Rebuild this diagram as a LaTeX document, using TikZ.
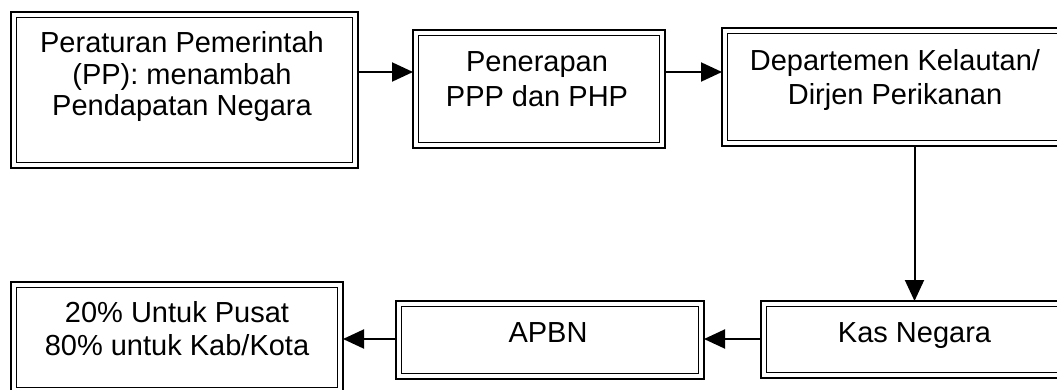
\documentclass[tikz,border=0pt]{standalone}
\usepackage{fontspec}
\setmainfont{Liberation Sans}
\usetikzlibrary{arrows.meta}
\tikzset{
  dbox/.style={draw, line width=2.6pt, rectangle, inner sep=0pt, outer sep=0pt,
    minimum width=#1,
    path picture={\draw[line width=1.8pt]
      ([shift={(5.5pt,-5.5pt)}]path picture bounding box.north west) rectangle
      ([shift={(-5.5pt,5.5pt)}]path picture bounding box.south east);}},
  txt/.style={anchor=base, align=center, inner sep=0pt,
    font=\fontsize{29}{33}\selectfont},
  arr/.style={line width=2pt, -{Triangle[length=21pt,width=19pt]}}
}
\begin{document}
\begin{tikzpicture}[x=1pt,y=-1pt]
\useasboundingbox (0,0) rectangle (1057,390);
\clip (0,0) rectangle (1057,390);
% boxes
\node[dbox=347pt, minimum height=156pt] (b1) at (184.5,90) {};
\node[dbox=252pt, minimum height=118pt] (b2) at (539,89) {};
\node[dbox=346pt, minimum height=118pt] (b3) at (895,87) {};
\node[dbox=332pt, minimum height=111pt] (b4) at (177,337.5) {};
\node[dbox=308pt, minimum height=78pt] (b5) at (550,340) {};
\node[dbox=307pt, minimum height=77pt] (b6) at (914.5,339.5) {};
% texts (anchored at the baseline of the last line)
\node[txt, font=\fontsize{29}{31.5}\selectfont] (t1) at (182,116) {Peraturan Pemerintah\\(PP): menambah\\Pendapatan Negara};
\node[txt, font=\fontsize{29}{34.5}\selectfont] (t2) at (537,106.5) {Penerapan\\PPP dan PHP};
\node[txt, font=\fontsize{29}{34.5}\selectfont] (t3) at (895,105) {Departemen Kelautan/\\Dirjen Perikanan};
\node[txt] (t4) at (177,355) {20\% Untuk Pusat\\80\% untuk Kab/Kota};
\node[txt] (t5) at (548,342) {APBN};
\node[txt] (t6) at (914.5,342) {Kas Negara};
% connectors
\coordinate (r1) at (0,72);
\coordinate (r2) at (0,339);
\draw[arr] (b1.east |- r1) -- (b2.west |- r1);
\draw[arr] (b2.east |- r1) -- (b3.west |- r1);
\draw[arr] (b6.north |- b3.south) -- (b6.north);
\draw[arr] (b6.west |- r2) -- (b5.east |- r2);
\draw[arr] (b5.west |- r2) -- (b4.east |- r2);
\end{tikzpicture}
\end{document}
